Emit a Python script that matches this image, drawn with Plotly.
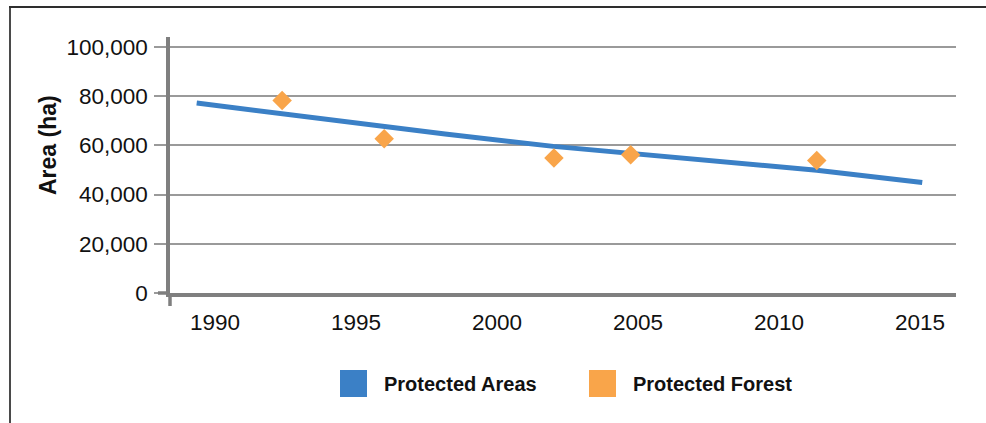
import plotly.graph_objects as go

# Protected Areas trend (year, hectares)
area_years = [1989.35, 1992.37, 1996.03, 1998.16, 2002.00, 2004.72, 2007.20, 2011.34, 2015.08]
area_values = [77200, 72800, 67300, 64600, 59600, 56900, 54200, 49900, 44900]

# Protected Forest observations (year, hectares)
forest_years = [1992.38, 1996.00, 2002.02, 2004.74, 2011.34]
forest_values = [78300, 62700, 54900, 56200, 53900]

x_ticks = [1990, 1995, 2000, 2005, 2010, 2015]
y_ticks = [0, 20000, 40000, 60000, 80000, 100000]
series_names = ["Protected Areas", "Protected Forest"]

BLUE = "#3B80C6"
ORANGE = "#F9A54A"
FONT = "Liberation Sans, Arial, sans-serif"
TEXT = "#111111"

# page geometry (pixels)
W_PAGE, H_PAGE = 986, 423
L, R, T, B = 170, 956, 37, 293
PW, PH = R - L, B - T


def px_x(px):
    return (px - L) / PW


def px_y(py):
    return (B - py) / PH


fig = go.Figure()

fig.add_trace(go.Scatter(
    x=area_years, y=area_values, mode="lines", name=series_names[0],
    line=dict(color=BLUE, width=5), showlegend=False,
))
fig.add_trace(go.Scatter(
    x=forest_years, y=forest_values, mode="markers", name=series_names[1],
    marker=dict(symbol="diamond", size=15, color=ORANGE, line=dict(width=0)),
    showlegend=False,
))

shapes = [
    # frame: left and top rules
    dict(type="line", xref="paper", yref="paper", x0=px_x(10), x1=px_x(10),
         y0=px_y(6), y1=px_y(H_PAGE + 5), line=dict(color="#4a4a4a", width=2)),
    dict(type="line", xref="paper", yref="paper", x0=px_x(9), x1=px_x(W_PAGE + 5),
         y0=px_y(7), y1=px_y(7), line=dict(color="#2e2e2e", width=2)),
    # axis line overhangs
    dict(type="line", xref="paper", yref="paper", x0=px_x(L), x1=px_x(L),
         y0=px_y(B), y1=px_y(306), line=dict(color="#7f7f7f", width=3.5)),
    dict(type="line", xref="paper", yref="paper", x0=px_x(158), x1=px_x(L),
         y0=0, y1=0, line=dict(color="#7f7f7f", width=3.5)),
    # legend swatches
    dict(type="rect", xref="paper", yref="paper", x0=px_x(340), x1=px_x(367),
         y0=px_y(397), y1=px_y(370), fillcolor=BLUE, line=dict(width=0)),
    dict(type="rect", xref="paper", yref="paper", x0=px_x(589), x1=px_x(616),
         y0=px_y(397), y1=px_y(370), fillcolor=ORANGE, line=dict(width=0)),
]

annotations = [
    dict(text="<b>Area (ha)</b>", xref="paper", yref="paper", x=px_x(48), y=px_y(145),
         xanchor="center", yanchor="middle", textangle=-90, showarrow=False,
         font=dict(family=FONT, size=23, color=TEXT)),
    dict(text="<b>%s</b>" % series_names[0], xref="paper", yref="paper", x=px_x(382),
         y=px_y(384), xanchor="left", yanchor="middle", showarrow=False,
         font=dict(family=FONT, size=20, color=TEXT)),
    dict(text="<b>%s</b>" % series_names[1], xref="paper", yref="paper", x=px_x(631),
         y=px_y(384), xanchor="left", yanchor="middle", showarrow=False,
         font=dict(family=FONT, size=20, color=TEXT)),
]

fig.update_layout(
    width=W_PAGE, height=H_PAGE, autosize=False,
    margin=dict(l=L, r=W_PAGE - R, t=T, b=H_PAGE - B, pad=0),
    paper_bgcolor="white", plot_bgcolor="white",
    font=dict(family=FONT, size=22.5, color=TEXT),
    shapes=shapes, annotations=annotations, showlegend=False,
    xaxis=dict(
        range=[1988.404, 2016.277], tickvals=x_ticks, ticktext=[str(v) for v in x_ticks],
        showgrid=False, zeroline=False, showline=True, linecolor="#7f7f7f", linewidth=3.5,
        ticks="", ticklabelstandoff=6, tickfont=dict(family=FONT, size=22.5, color=TEXT),
    ),
    yaxis=dict(
        range=[0, PH / 246 * 100000], tickvals=y_ticks, tickformat=",d",
        showgrid=True, gridcolor="#9a9a9a", gridwidth=1.5, zeroline=False,
        showline=True, linecolor="#7f7f7f", linewidth=3.5,
        ticks="outside", ticklen=12, tickwidth=1.5, tickcolor="#9a9a9a",
        ticklabelstandoff=2, tickfont=dict(family=FONT, size=22.5, color=TEXT),
    ),
)

fig.write_html("out.html")
